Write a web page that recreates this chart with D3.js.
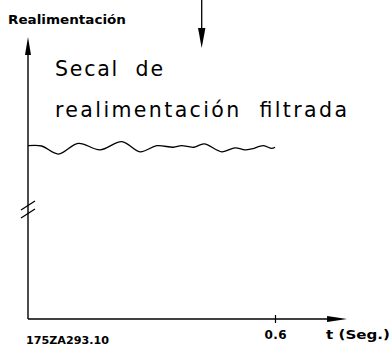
<!DOCTYPE html>
<html>
<head>
<meta charset="utf-8">
<script src="https://cdn.jsdelivr.net/npm/d3@7/dist/d3.min.js"></script>
<style>
  html, body { margin: 0; padding: 0; background: #fff; }
  svg { display: block; }
  text { fill: #000; }
</style>
</head>
<body>
<script>
// Filtered feedback signal over time (seconds)
const timeSec  = [0, 0.033, 0.074, 0.122, 0.175, 0.228, 0.272, 0.313, 0.353, 0.373, 0.402, 0.428, 0.471, 0.503, 0.527, 0.543, 0.572, 0.592, 0.6];
const feedback = [61.45, 61.35, 58.5, 62.3, 60.0, 62.9, 59.3, 61.45, 60.9, 61.45, 60.9, 62.1, 59.3, 60.7, 60.0, 60.3, 61.45, 60.5, 60.9];
const xTicks = [0.6];
const xTickLabels = ["0.6"];
const yTitle = "Realimentación";
const xTitle = "t (Seg.)";
const noteLines = ["Secal  de", "realimentación  filtrada"];
const drawingCode = "175ZA293.10";

const W = 392, H = 345;
const svg = d3.select("body").append("svg").attr("width", W).attr("height", H);

const x = d3.scaleLinear().domain([0, 0.6]).range([28, 275]);
const y = d3.scaleLinear().domain([0, 100]).range([319, 37]);
const x0 = x(0), yBase = y(0);
const xEnd = x(0.775), yTop = y(100);

// Axes lines with arrow heads
svg.append("line").attr("x1", x0).attr("x2", x0).attr("y1", yBase).attr("y2", yTop + 10)
  .attr("stroke", "#000").attr("stroke-width", 1.4);
svg.append("path").attr("d", `M${x0},${yTop} L${x0 - 3},${yTop + 18} L${x0 + 3},${yTop + 18} Z`).attr("fill", "#000");

svg.append("line").attr("x1", x0).attr("x2", xEnd - 10).attr("y1", yBase).attr("y2", yBase)
  .attr("stroke", "#000").attr("stroke-width", 1.4);
svg.append("path").attr("d", `M${xEnd},${yBase} L${xEnd - 20},${yBase - 3} L${xEnd - 20},${yBase + 3} Z`).attr("fill", "#000");

// Tick on the time axis
const xAxis = d3.axisBottom(x).tickValues(xTicks).tickFormat((d, i) => xTickLabels[i]).tickSize(4).tickPadding(8);
const gx = svg.append("g").attr("transform", `translate(0,${yBase})`).call(xAxis);
gx.select(".domain").remove();
gx.selectAll(".tick line").attr("y1", -4).attr("y2", 4).attr("stroke", "#000").attr("stroke-width", 1.2);
gx.selectAll(".tick text")
  .attr("y", 20).attr("dy", null)
  .attr("font-family", "DejaVu Sans").attr("font-weight", "bold").attr("font-size", 12)
  .attr("fill", "#000")
  .attr("textLength", 22).attr("lengthAdjust", "spacing");

// Axis break marks on the vertical axis
[[210, 201], [218, 209]].forEach(([ya, yb]) => {
  svg.append("line").attr("x1", x0 - 7).attr("y1", ya).attr("x2", x0 + 7).attr("y2", yb)
    .attr("stroke", "#000").attr("stroke-width", 1.3);
});

// Feedback curve
const line = d3.line()
  .x((d, i) => x(timeSec[i]))
  .y(d => y(d))
  .curve(d3.curveCatmullRom.alpha(0.5));
svg.append("path").datum(feedback).attr("d", line)
  .attr("fill", "none").attr("stroke", "#000").attr("stroke-width", 1.3);

// Pointer arrow from the top
svg.append("line").attr("x1", 201.7).attr("x2", 201.7).attr("y1", 0).attr("y2", 34)
  .attr("stroke", "#000").attr("stroke-width", 1.3);
svg.append("path").attr("d", "M198,28 L205.4,28 L201.7,48 Z").attr("fill", "#000");

// Labels
svg.append("text").attr("x", 8).attr("y", 24).text(yTitle)
  .attr("font-family", "DejaVu Sans").attr("font-weight", "bold").attr("font-size", 12)
  .attr("textLength", 118).attr("lengthAdjust", "spacingAndGlyphs");

svg.append("text").attr("x", 326).attr("y", 339).text(xTitle)
  .attr("font-family", "DejaVu Sans").attr("font-weight", "bold").attr("font-size", 12.5)
  .attr("textLength", 64).attr("lengthAdjust", "spacingAndGlyphs");

svg.append("text").attr("x", 26).attr("y", 344).text(drawingCode)
  .attr("font-family", "DejaVu Sans").attr("font-weight", "bold").attr("font-size", 10.5)
  .attr("textLength", 83).attr("lengthAdjust", "spacingAndGlyphs");

svg.append("text").attr("x", 55).attr("y", 76).attr("xml:space", "preserve").style("white-space", "pre")
  .text(noteLines[0])
  .attr("font-family", "DejaVu Sans").attr("font-size", 20.5)
  .attr("textLength", 108).attr("lengthAdjust", "spacing");
svg.append("text").attr("x", 55).attr("y", 117).style("white-space", "pre")
  .text(noteLines[1])
  .attr("font-family", "DejaVu Sans").attr("font-size", 20.5)
  .attr("textLength", 292).attr("lengthAdjust", "spacing");
</script>
</body>
</html>
